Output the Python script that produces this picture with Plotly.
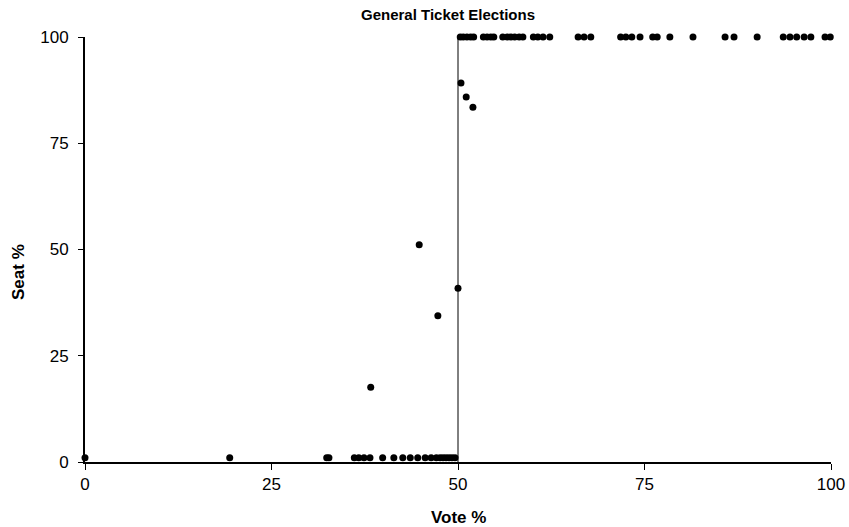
import plotly.graph_objects as go

# Elections won outright (seat share 100%)
top_vote = [50.3, 50.7, 51.2, 51.7, 52.1, 53.4, 53.9, 54.4, 54.8, 56.0, 56.6, 57.1,
            57.6, 58.2, 58.7, 60.1, 60.7, 61.4, 62.3, 66.1, 66.9, 67.8, 71.8, 72.5,
            73.3, 74.4, 76.1, 76.7, 78.4, 81.5, 85.8, 87.0, 90.1, 93.6, 94.5, 95.4,
            96.4, 97.3, 99.2, 99.9]
top_seat = [100] * len(top_vote)

# Elections with split outcomes
mid_vote = [50.4, 51.1, 52.0, 44.8, 50.0, 47.3, 38.3]
mid_seat = [89.2, 85.9, 83.5, 51.1, 40.9, 34.4, 17.6]

# Elections lost (seat share ~0%)
low_vote = [0.0, 19.4, 32.4, 32.7, 36.1, 36.7, 37.4, 38.2, 39.9, 41.4, 42.6, 43.6,
            44.6, 45.6, 46.4, 47.1, 47.6, 48.0, 48.4, 48.8, 49.2, 49.6]
low_seat = [1.0] * len(low_vote)

# 50% threshold line
thr_x = [50, 50]
thr_y = [0, 100]

tick_vals = [0, 25, 50, 75, 100]

vote = top_vote + mid_vote + low_vote
seat = top_seat + mid_seat + low_seat

fig = go.Figure()
fig.add_trace(go.Scatter(x=thr_x, y=thr_y, mode="lines",
                         line=dict(color="black", width=1), hoverinfo="skip"))
fig.add_trace(go.Scatter(x=vote, y=seat, mode="markers",
                         marker=dict(color="black", size=7), cliponaxis=False))

font = "Liberation Sans, Arial, Helvetica, sans-serif"
fig.update_layout(
    width=849, height=527,
    margin=dict(l=85, r=18, t=37, b=65, autoexpand=False),
    paper_bgcolor="white", plot_bgcolor="white",
    showlegend=False,
    font=dict(family=font, color="black", size=17),
    title=dict(text="<b>General Ticket Elections</b>", x=448 / 849, xanchor="center",
               xref="container", y=1 - 15 / 527, yref="container", yanchor="middle",
               font=dict(size=15)),
    annotations=[
        dict(text="<b>Vote %</b>", xref="paper", yref="paper", x=0.5, y=(462 - 517) / 425,
             xanchor="center", yanchor="middle", showarrow=False, font=dict(size=17)),
        dict(text="<b>Seat %</b>", xref="paper", yref="paper", x=(18 - 85) / 746,
             y=(462 - 272) / 425, xanchor="center", yanchor="middle", textangle=-90,
             showarrow=False, font=dict(size=17)),
    ],
)
fig.update_xaxes(range=[0, 100], tickvals=tick_vals, automargin=False,
                 showgrid=False, zeroline=False, showline=True, linecolor="black",
                 linewidth=2, ticks="outside", ticklen=6, tickcolor="black")
fig.update_yaxes(range=[0, 100], tickvals=tick_vals, automargin=False,
                 showgrid=False, zeroline=False, showline=True, linecolor="black",
                 linewidth=2, ticks="outside", ticklen=5, tickcolor="black",
                 ticklabelstandoff=6)

fig.write_html("out.html", config={"displayModeBar": False},
               post_script="document.body.style.margin='0';document.body.style.padding='0';")
